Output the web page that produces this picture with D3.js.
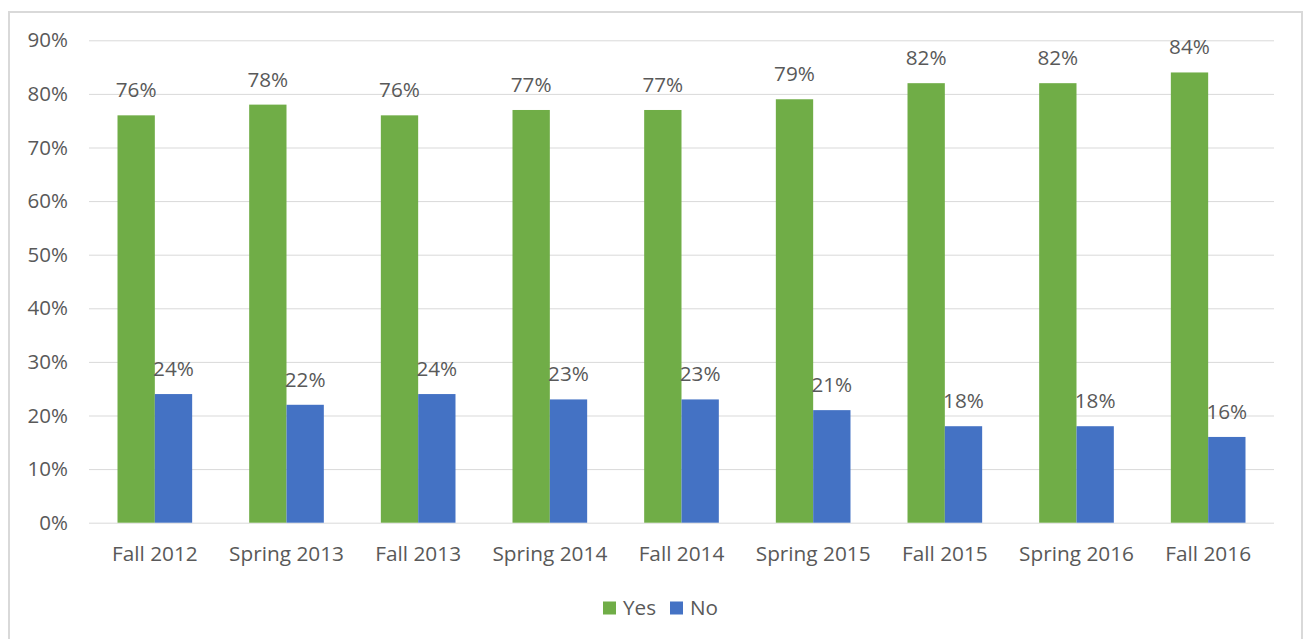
<!DOCTYPE html>
<html><head><meta charset="utf-8">
<script src="https://cdn.jsdelivr.net/npm/d3@7"></script>
<style>
body{margin:0;background:#fff;}
text{font-family:"Open Sans",sans-serif;fill:#595959;}
</style></head>
<body><svg id="c" width="1309" height="639"></svg>
<script>
const categories = ["Fall 2012","Spring 2013","Fall 2013","Spring 2014","Fall 2014","Spring 2015","Fall 2015","Spring 2016","Fall 2016"];
const yesValues = [76,78,76,77,77,79,82,82,84];
const noValues = [24,22,24,23,23,21,18,18,16];
const seriesNames = ["Yes","No"];
const seriesColors = ["#70AD47","#4472C4"];
const yTicks = [0,10,20,30,40,50,60,70,80,90];

const svg = d3.select("#c");
svg.append("rect").attr("x",9).attr("y",12).attr("width",1293).attr("height",640)
  .attr("fill","#fff").attr("stroke","#d9d9d9").attr("stroke-width",2);

const pLeft=89,pRight=1274,pTop=40.3,pBottom=522.7;
const x = d3.scaleBand().domain(categories).range([pLeft,pRight]).paddingInner(0.433).paddingOuter(0.2165);
const x1 = d3.scaleBand().domain(seriesNames).range([0,x.bandwidth()]);
const y = d3.scaleLinear().domain([0,90]).range([pBottom,pTop]);

const yAxis = d3.axisLeft(y).tickValues(yTicks).tickFormat(d=>d+"%").tickSize(-(pRight-pLeft)).tickPadding(21);
const gy = svg.append("g").attr("transform",`translate(${pLeft},0)`).call(yAxis);
gy.select(".domain").remove();
gy.selectAll(".tick line").attr("stroke","#d9d9d9").attr("stroke-width",1);
gy.selectAll(".tick text").attr("font-size",20.5).style("fill","#595959");

const xAxis = d3.axisBottom(x).tickSize(0).tickPadding(24);
const gx = svg.append("g").attr("transform",`translate(0,${pBottom})`).call(xAxis);
gx.select(".domain").remove();
gx.selectAll(".tick text").attr("font-size",20.8).style("fill","#595959");

const data = categories.map((c,i)=>({c, vals:[yesValues[i],noValues[i]]}));
const groups = svg.append("g").selectAll("g").data(data).join("g")
  .attr("transform",d=>`translate(${x(d.c)},0)`);
groups.selectAll("rect").data(d=>d.vals.map((v,j)=>({s:seriesNames[j],v,j}))).join("rect")
  .attr("x",d=>x1(d.s)).attr("width",x1.bandwidth())
  .attr("y",d=>y(d.v)).attr("height",d=>pBottom-y(d.v))
  .attr("fill",d=>seriesColors[d.j]);
groups.selectAll("text.lbl").data(d=>d.vals.map((v,j)=>({s:seriesNames[j],v,j}))).join("text")
  .attr("class","lbl")
  .attr("x",d=>x1(d.s)+x1.bandwidth()/2).attr("y",d=>y(d.v)-18)
  .attr("text-anchor","middle").attr("font-size",20.7).text(d=>d.v+"%");

const lg = svg.append("g");
const legX=[603,670];
seriesNames.forEach((s,i)=>{
  lg.append("rect").attr("x",legX[i]).attr("y",601.5).attr("width",13).attr("height",13).attr("fill",seriesColors[i]);
  lg.append("text").attr("x",legX[i]+20).attr("y",615).attr("font-size",20.7).text(s);
});
</script></body></html>
